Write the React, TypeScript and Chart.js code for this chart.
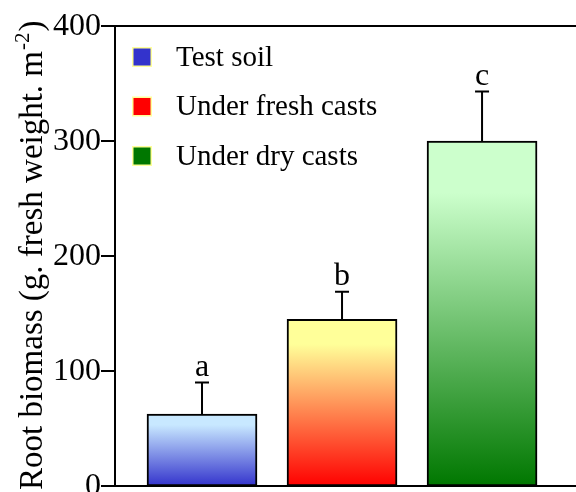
import React, { useEffect, useRef } from "react";
import { Chart, registerables } from "chart.js";

Chart.register(...registerables);

const categories = ["Test soil", "Under fresh casts", "Under dry casts"];
const values = [62.5, 145, 300];
const errors = [27.5, 24, 43];
const letters = ["a", "b", "c"];
const yTicks = [0, 100, 200, 300, 400];
const topColors = ["#c8e8ff", "#ffff99", "#ccffcc"];
const bottomColors = ["#3333cc", "#ff0000", "#007700"];
const legendColors = ["#3333cc", "#ff0000", "#007700"];

const SERIF = "'Liberation Serif', 'Times New Roman', serif";

const overlayPlugin = {
  id: "overlay",
  afterDatasetsDraw(chart: any) {
    const ctx = chart.ctx as CanvasRenderingContext2D;
    const xs = chart.scales.x;
    const ys = chart.scales.y;
    const area = chart.chartArea;
    ctx.save();
    ctx.strokeStyle = "#000";
    ctx.fillStyle = "#000";
    ctx.lineWidth = 2;

    // error bars and letters
    values.forEach((v, i) => {
      const x = xs.getPixelForValue(i + 1);
      const yTop = ys.getPixelForValue(v);
      const yErr = ys.getPixelForValue(v + errors[i]);
      ctx.beginPath();
      ctx.moveTo(x, yTop);
      ctx.lineTo(x, yErr);
      ctx.moveTo(x - 7, yErr);
      ctx.lineTo(x + 7, yErr);
      ctx.stroke();
      ctx.font = `32px ${SERIF}`;
      ctx.textAlign = "center";
      ctx.textBaseline = "alphabetic";
      ctx.fillText(letters[i], x, yErr - 7);
    });

    // frame
    ctx.beginPath();
    ctx.moveTo(area.left, area.top);
    ctx.lineTo(chart.width + 2, area.top);
    ctx.moveTo(area.left, area.top - 1);
    ctx.lineTo(area.left, area.bottom + 1);
    ctx.moveTo(area.left, area.bottom);
    ctx.lineTo(chart.width + 2, area.bottom);
    ctx.stroke();

    // y ticks and labels
    ctx.font = `32px ${SERIF}`;
    ctx.textAlign = "right";
    ctx.textBaseline = "middle";
    yTicks.forEach((t) => {
      const y = ys.getPixelForValue(t);
      ctx.beginPath();
      ctx.moveTo(area.left - 14, y);
      ctx.lineTo(area.left, y);
      ctx.stroke();
      ctx.fillText(String(t), area.left - 14, y + 1);
    });

    // y title
    ctx.save();
    ctx.translate(42, 490);
    ctx.rotate(-Math.PI / 2);
    ctx.textAlign = "left";
    ctx.textBaseline = "alphabetic";
    ctx.font = `33px ${SERIF}`;
    const main = "Root biomass (g. fresh weight. m";
    ctx.fillText(main, 0, 0);
    let w = ctx.measureText(main).width;
    ctx.font = `21px ${SERIF}`;
    const sup = "-2";
    ctx.fillText(sup, w + 1, -13);
    w += ctx.measureText(sup).width + 2;
    ctx.font = `33px ${SERIF}`;
    ctx.fillText(")", w, 0);
    ctx.restore();

    // legend
    ctx.font = `29px ${SERIF}`;
    ctx.textAlign = "left";
    ctx.textBaseline = "middle";
    categories.forEach((c, i) => {
      const cy = 57 + i * 49.5;
      ctx.fillStyle = "#ffff99";
      ctx.fillRect(132, cy - 10, 20, 20);
      ctx.fillStyle = legendColors[i];
      ctx.fillRect(133.5, cy - 8.5, 17, 17);
      ctx.fillStyle = "#000";
      ctx.fillText(c, 176, cy + 1);
    });
    ctx.restore();
  },
};

export default function App() {
  const ref = useRef<HTMLCanvasElement>(null);
  useEffect(() => {
    if (!ref.current) return;
    const chart = new Chart(ref.current, {
      type: "bar",
      data: {
        datasets: [
          {
            data: values.map((v, i) => ({ x: i + 1, y: v })),
            backgroundColor: (c: any) => {
              const i = c.dataIndex;
              if (i === undefined) return topColors[0];
              const ch = c.chart;
              if (!ch.chartArea || !ch.scales.y) return topColors[i];
              const top = ch.scales.y.getPixelForValue(values[i]);
              const bottom = ch.scales.y.getPixelForValue(0);
              const g = ch.ctx.createLinearGradient(0, top, 0, bottom);
              g.addColorStop(0, topColors[i]);
              g.addColorStop(0.15, topColors[i]);
              g.addColorStop(1, bottomColors[i]);
              return g;
            },
            borderColor: "#000",
            borderWidth: 2,
            borderSkipped: false,
            barThickness: 110,
          } as any,
        ],
      },
      options: {
        responsive: false,
        animation: false,
        devicePixelRatio: 1,
        layout: { padding: { left: 115, top: 26, right: 0, bottom: 6 } },
        scales: {
          x: { type: "linear", display: false, offset: false, min: 0.3786, max: 3.671 },
          y: { display: false, min: 0, max: 400 },
        },
        plugins: { legend: { display: false }, tooltip: { enabled: false } },
      },
      plugins: [overlayPlugin],
    });
    return () => chart.destroy();
  }, []);
  return (
    <div style={{ position: "fixed", left: 0, top: 0, width: 576, height: 492, background: "#fff" }}>
      <canvas ref={ref} width={576} height={492} />
    </div>
  );
}
